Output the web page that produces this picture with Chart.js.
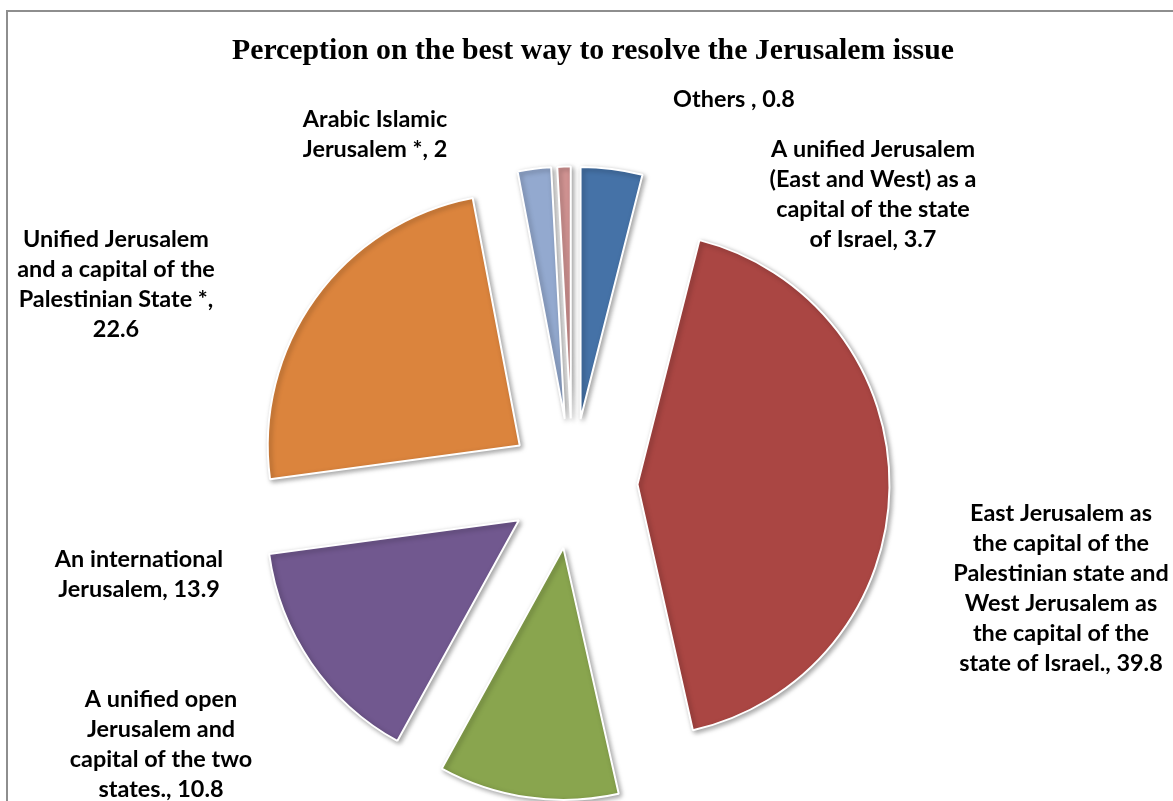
<!DOCTYPE html>
<html>
<head>
<meta charset="utf-8">
<title>Perception on the best way to resolve the Jerusalem issue</title>
<script src="https://cdn.jsdelivr.net/npm/chart.js@4.4.1/dist/chart.umd.min.js"></script>
<style>
    html, body { margin: 0; padding: 0; background: #fff; overflow: hidden; }
    #wrap { position: relative; width: 1173px; height: 801px; }
    #frame { position: absolute; left: 6px; top: 10px; width: 1300px; height: 900px; border: 2px solid #8e8e8e; }
    #JerusalemChart { position: absolute; left: 0; top: 0; }
</style>
</head>
<body>
<div id="wrap">
    <div id="frame"></div>
    <canvas id="JerusalemChart" width="1173" height="801"></canvas>
</div>
<script>
const chartTitle = 'Perception on the best way to resolve the Jerusalem issue';

// '\n' marks where the reference breaks the label text
const categories = [
    'A unified Jerusalem\n(East and West) as a\ncapital of the state\nof Israel',
    'East Jerusalem as\nthe capital of the\nPalestinian state and\nWest Jerusalem as\nthe capital of the\nstate of Israel.',
    'A unified open\nJerusalem and\ncapital of the two\nstates.',
    'An international\nJerusalem',
    'Unified Jerusalem\nand a capital of the\nPalestinian State *',
    'Arabic Islamic\nJerusalem *',
    'Others '
];
const percentages = [3.7, 39.8, 10.8, 13.9, 22.6, 2, 0.8];
const sliceColors = ['#4572A7', '#AA4643', '#89A54E', '#71588F', '#DB843D', '#93A9CF', '#D19392'];

// where each label block sits: centre x, first baseline, wrap width
const labelLayout = [
    { x: 873, y: 157, maxWidth: 240 },
    { x: 1061, y: 521, maxWidth: 250 },
    { x: 161, y: 707, maxWidth: 240 },
    { x: 139, y: 567, maxWidth: 240 },
    { x: 116, y: 247, maxWidth: 212 },
    { x: 375, y: 127, maxWidth: 240 },
    { x: 734, y: 107, maxWidth: 240 }
];

const EXPLODE = 65;       // px every slice is pulled out from the centre
const PIE_RADIUS = 252;
const LINE_HEIGHT = 30;

function fitFont(ctx, weight, family, sample, targetWidth) {
    ctx.font = weight + ' 100px ' + family;
    const size = 100 * targetWidth / ctx.measureText(sample).width;
    return weight + ' ' + size.toFixed(2) + 'px ' + family;
}

function wrapLine(ctx, text, maxWidth) {
    const words = text.split(' ');
    const lines = [];
    let current = '';
    words.forEach(function (word) {
        const test = current ? current + ' ' + word : word;
        if (current && ctx.measureText(test).width > maxWidth) {
            lines.push(current);
            current = word;
        } else {
            current = test;
        }
    });
    lines.push(current);
    return lines;
}

// pull every slice straight out along its middle angle (Excel style explosion)
const explodePlugin = {
    id: 'explodeSlices',
    afterDatasetUpdate(chart, args) {
        args.meta.data.forEach(function (arc) {
            const mid = (arc.startAngle + arc.endAngle) / 2;
            arc.x += Math.cos(mid) * EXPLODE;
            arc.y += Math.sin(mid) * EXPLODE;
        });
    }
};

const shadowPlugin = {
    id: 'sliceShadow',
    beforeDatasetsDraw(chart) {
        const ctx = chart.ctx;
        ctx.save();
        ctx.shadowColor = 'rgba(0, 0, 0, 0.35)';
        ctx.shadowBlur = 5;
        ctx.shadowOffsetX = 2;
        ctx.shadowOffsetY = 2;
    },
    afterDatasetsDraw(chart) {
        chart.ctx.restore();
    }
};

const textPlugin = {
    id: 'sliceText',
    afterDraw(chart) {
        const ctx = chart.ctx;
        ctx.save();
        ctx.fillStyle = '#000';
        ctx.textAlign = 'center';
        ctx.textBaseline = 'alphabetic';

        // title
        ctx.font = fitFont(ctx, 'bold', '"Liberation Serif", "DejaVu Serif", serif', chartTitle, 722);
        ctx.fillText(chartTitle, 593, 59);

        // data labels
        ctx.font = fitFont(ctx, 'bold', 'Lato, "Open Sans", sans-serif', 'A unified Jerusalem', 204);
        categories.forEach(function (cat, i) {
            const place = labelLayout[i];
            const text = cat + ', ' + percentages[i];
            let lines = [];
            text.split('\n').forEach(function (part) {
                lines = lines.concat(wrapLine(ctx, part, place.maxWidth));
            });
            lines.forEach(function (line, k) {
                ctx.fillText(line, place.x, place.y + k * LINE_HEIGHT);
            });
        });
        ctx.restore();
    }
};

const ctx = document.getElementById('JerusalemChart');
const JerusalemChart = new Chart(ctx, {
    type: 'pie',
    data: {
        labels: categories.map(c => c.replace(/\n/g, ' ')),
        datasets: [{
            data: percentages,
            backgroundColor: sliceColors,
            borderColor: '#ffffff',
            borderWidth: 2,
            clip: false
        }]
    },
    options: {
        responsive: false,
        animation: false,
        events: [],
        radius: PIE_RADIUS,
        layout: {
            padding: { left: 0, right: 28, top: 166, bottom: 0 }
        },
        plugins: {
            legend: { display: false },
            title: { display: false },
            tooltip: { enabled: false }
        }
    },
    plugins: [explodePlugin, shadowPlugin, textPlugin]
});
</script>
</body>
</html>
